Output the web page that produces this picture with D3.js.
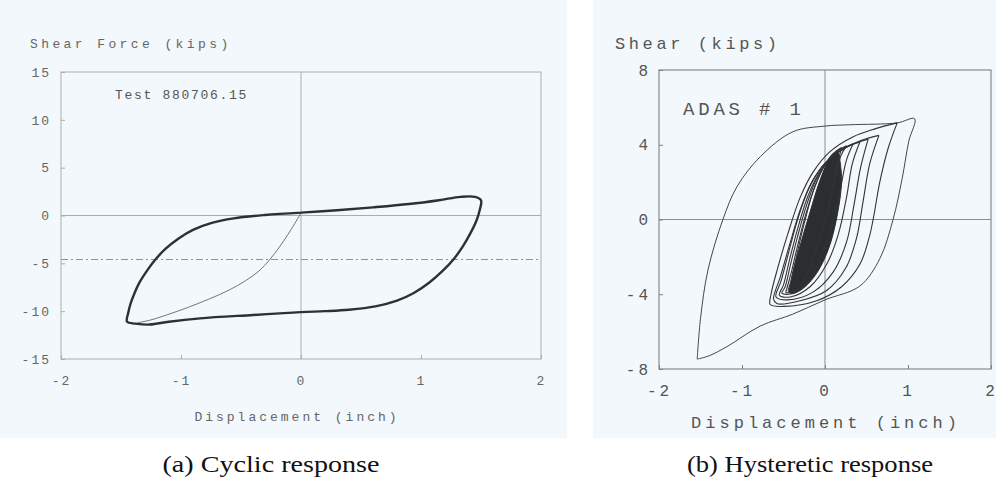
<!DOCTYPE html>
<html>
<head>
<meta charset="utf-8">
<script src="https://cdn.jsdelivr.net/npm/d3@7"></script>
<style>
  body { margin: 0; background: #fff; }
  .mono { font-family: "Liberation Mono", "DejaVu Sans Mono", monospace; }
  .cap { font-family: "Liberation Serif", "DejaVu Serif", serif; }
</style>
</head>
<body>
<svg id="vis" width="996" height="484"></svg>
<script>
// ---- data ----
const xTicks = [-2, -1, 0, 1, 2];
const leftYTicks = [-15, -10, -5, 0, 5, 10, 15];
const rightYTicks = [-8, -4, 0, 4, 8];
const yieldLevel = -4.6;

// (a) cyclic response, thick stabilised loop
const cyclicLoop = [[0,0.3],[0.3,0.55],[0.6,0.85],[0.9,1.2],[1.15,1.6],[1.33,1.95],[1.45,1.95],[1.5,1.6],
  [1.49,0.6],[1.46,-0.6],[1.41,-1.9],[1.35,-3.2],[1.27,-4.6],[1.18,-5.8],[1.07,-7.0],[0.94,-8.1],[0.8,-8.9],
  [0.62,-9.5],[0.4,-9.85],[0.2,-10.0],[0,-10.1],[-0.4,-10.4],[-0.84,-10.75],[-1.1,-11.1],[-1.26,-11.4],
  [-1.38,-11.3],[-1.45,-11.1],[-1.44,-10.2],[-1.42,-9.2],[-1.39,-8.2],[-1.35,-7.1],[-1.29,-5.9],[-1.22,-4.7],
  [-1.13,-3.5],[-1.02,-2.4],[-0.9,-1.5],[-0.75,-0.8],[-0.56,-0.3],[-0.3,0.05],[0,0.3]];
// first loading branch (thin)
const virginCurve = [[0,0.3],[-0.05,-0.8],[-0.11,-2.0],[-0.18,-3.3],[-0.26,-4.6],[-0.35,-5.8],[-0.46,-6.8],
  [-0.6,-7.8],[-0.76,-8.7],[-0.94,-9.6],[-1.12,-10.4],[-1.26,-10.95],[-1.36,-11.2]];

// (b) hysteretic response, loops from outer to inner
const loopOuter = [[-1.54,-7.47],[-1.4,-7.3],[-1.18,-6.8],[-0.78,-5.7],[-0.39,-5.07],[0,-4.3],[0.42,-3.56],
  [0.66,-2.1],[0.82,0],[0.93,2.2],[1.01,4.2],[1.08,5.39],[0.87,5.17],[0.3,5.07],[0,5.0],[-0.39,4.69],
  [-0.78,3.36],[-1.06,1.76],[-1.23,0],[-1.41,-2.7],[-1.5,-5.3],[-1.54,-7.47]];
const loop2 = [[0.87,5.17],[0.6,4.85],[0.34,4.43],[0.06,3.63],[-0.14,2.56],[-0.3,1.17],[-0.45,-0.8],[-0.57,-2.6],
  [-0.65,-4.0],[-0.66,-4.55],[-0.5,-4.65],[-0.1,-4.35],[0.2,-3.6],[0.42,-2.4],[0.53,-1.0],[0.58,0],[0.66,2.0],
  [0.76,3.8],[0.87,5.17]];
const loop3 = [[0.65,4.5],[0.45,4.25],[0.25,3.85],[0.02,3.1],[-0.16,2.0],[-0.3,0.5],[-0.43,-1.4],[-0.54,-3.1],
  [-0.62,-4.25],[-0.58,-4.5],[-0.3,-4.35],[0.02,-3.8],[0.25,-2.6],[0.38,-1.0],[0.46,1.0],[0.54,3.0],[0.65,4.5]];
const loop4 = [[0.52,4.3],[0.35,4.05],[0.16,3.6],[-0.04,2.8],[-0.2,1.6],[-0.33,0],[-0.44,-1.8],[-0.53,-3.3],
  [-0.59,-4.15],[-0.45,-4.3],[-0.15,-3.9],[0.1,-2.8],[0.26,-1.2],[0.35,0.8],[0.43,2.8],[0.52,4.3]];
const loop5 = [[0.42,4.15],[0.27,3.9],[0.1,3.4],[-0.07,2.5],[-0.21,1.2],[-0.33,-0.5],[-0.43,-2.2],[-0.5,-3.5],
  [-0.55,-4.05],[-0.42,-4.15],[-0.18,-3.6],[0.02,-2.4],[0.16,-0.8],[0.26,1.2],[0.33,3.0],[0.42,4.15]];
const loop6 = [[0.34,4.05],[0.2,3.75],[0.05,3.2],[-0.1,2.2],[-0.22,0.8],[-0.33,-0.9],[-0.42,-2.5],[-0.48,-3.6],
  [-0.52,-3.95],[-0.38,-3.95],[-0.2,-3.3],[-0.05,-2.0],[0.08,-0.4],[0.18,1.5],[0.26,3.2],[0.34,4.05]];
const loop7 = [[0.26,3.95],[0.14,3.65],[0.01,3.0],[-0.12,1.8],[-0.23,0.3],[-0.33,-1.4],[-0.41,-2.9],[-0.46,-3.7],
  [-0.47,-3.9],[-0.35,-3.8],[-0.22,-3.0],[-0.1,-1.6],[0.02,0.2],[0.11,2.0],[0.19,3.4],[0.26,3.95]];
const loop8 = [[0.2,3.85],[0.09,3.5],[-0.03,2.7],[-0.15,1.4],[-0.25,-0.2],[-0.34,-1.9],[-0.41,-3.3],[-0.44,-3.85],
  [-0.33,-3.7],[-0.2,-2.8],[-0.08,-1.2],[0.04,0.6],[0.12,2.4],[0.2,3.85]];
// dense black core of small cycles
const denseCore = [[0.16,3.7],[0.2,2.2],[0.15,0.3],[0.04,-1.6],[-0.12,-3.0],[-0.3,-3.8],[-0.42,-3.95],
  [-0.4,-3.1],[-0.3,-1.4],[-0.18,0.4],[-0.06,2.1],[0.06,3.3],[0.16,3.7]];
const rightLoops = [loopOuter, loop2, loop3, loop4, loop5, loop6, loop7, loop8];

const svg = d3.select("#vis");
const bg = "#f2f8fb";
svg.append("rect").attr("x",0).attr("y",0).attr("width",567).attr("height",438).attr("fill",bg);
svg.append("rect").attr("x",593).attr("y",0).attr("width",403).attr("height",438).attr("fill",bg);

// ---------- panel (a) ----------
const xa = d3.scaleLinear().domain([-2,2]).range([61,541]);
const ya = d3.scaleLinear().domain([-15,15]).range([359,72]);
const ga = svg.append("g").attr("class","mono");
const gridA = "#a9adb0";

ga.append("rect").attr("x",xa(-2)).attr("y",ya(15)).attr("width",xa(2)-xa(-2)).attr("height",ya(-15)-ya(15))
  .attr("fill","none").attr("stroke",gridA).attr("stroke-width",1);
ga.append("line").attr("x1",xa(-2)).attr("x2",xa(2)).attr("y1",ya(0)).attr("y2",ya(0)).attr("stroke",gridA);
ga.append("line").attr("x1",xa(0)).attr("x2",xa(0)).attr("y1",ya(15)).attr("y2",ya(-15)).attr("stroke",gridA);
ga.append("line").attr("x1",xa(-2)).attr("x2",xa(2)).attr("y1",ya(yieldLevel)).attr("y2",ya(yieldLevel))
  .attr("stroke","#8d9296").attr("stroke-dasharray","7,3,2,3");

const axA = ga.append("g").attr("transform",`translate(0,${ya(-15)})`)
  .call(d3.axisBottom(xa).tickValues(xTicks).tickSizeInner(-4).tickSizeOuter(0).tickPadding(17).tickFormat(d3.format("d")));
const ayA = ga.append("g").attr("transform",`translate(${xa(-2)},0)`)
  .call(d3.axisLeft(ya).tickValues(leftYTicks).tickSizeInner(-4).tickSizeOuter(0).tickPadding(10).tickFormat(d3.format("d")));
[axA, ayA].forEach(a => {
  a.select(".domain").remove();
  a.selectAll(".tick line").attr("stroke",gridA);
  a.selectAll("text").attr("font-size",13).attr("fill","#666").attr("letter-spacing",2)
    .attr("font-family","Liberation Mono, monospace").text(d => String(d).replace("−","-"));
});

ga.append("text").attr("x",30).attr("y",48).attr("font-size",13).attr("letter-spacing",3.4).attr("fill","#666")
  .text("Shear Force (kips)");
ga.append("text").attr("x",115).attr("y",99).attr("font-size",13).attr("letter-spacing",1.7).attr("fill","#555")
  .text("Test 880706.15");
ga.append("text").attr("x",297).attr("y",421).attr("text-anchor","middle").attr("font-size",13)
  .attr("letter-spacing",3).attr("fill","#666").text("Displacement (inch)");

const lineA = d3.line().x(d => xa(d[0])).y(d => ya(d[1])).curve(d3.curveCatmullRom.alpha(0.5));
ga.append("path").attr("d",lineA(virginCurve)).attr("fill","none").attr("stroke","#666").attr("stroke-width",0.9);
ga.append("path").attr("d",lineA(cyclicLoop)).attr("fill","none").attr("stroke","#2e3133").attr("stroke-width",2.4)
  .attr("stroke-linejoin","round");

// ---------- panel (b) ----------
const xb = d3.scaleLinear().domain([-2,2]).range([659,991]);
const yb = d3.scaleLinear().domain([-8,8]).range([369,70]);
const gb = svg.append("g").attr("class","mono");
const gridB = "#7d8184";

gb.append("line").attr("x1",xb(-2)).attr("x2",xb(2)).attr("y1",yb(0)).attr("y2",yb(0)).attr("stroke","#8a8e91");
gb.append("line").attr("x1",xb(0)).attr("x2",xb(0)).attr("y1",yb(8)).attr("y2",yb(-8)).attr("stroke","#8a8e91");
gb.append("rect").attr("x",xb(-2)).attr("y",yb(8)).attr("width",xb(2)-xb(-2)).attr("height",yb(-8)-yb(8))
  .attr("fill","none").attr("stroke",gridB).attr("stroke-width",1.1);

const axB = gb.append("g").attr("transform",`translate(0,${yb(-8)})`)
  .call(d3.axisBottom(xb).tickValues(xTicks).tickSizeInner(-4).tickSizeOuter(0).tickPadding(16).tickFormat(d3.format("d")));
const ayB = gb.append("g").attr("transform",`translate(${xb(-2)},0)`)
  .call(d3.axisLeft(yb).tickValues(rightYTicks).tickSizeInner(-4).tickSizeOuter(0).tickPadding(8).tickFormat(d3.format("d")));
[axB, ayB].forEach(a => {
  a.select(".domain").remove();
  a.selectAll(".tick line").attr("stroke",gridB);
  a.selectAll("text").attr("font-size",16).attr("fill","#555").attr("letter-spacing",3)
    .attr("font-family","Liberation Mono, monospace").text(d => String(d).replace("−","-"));
});

gb.append("text").attr("x",615).attr("y",49).attr("font-size",17).attr("letter-spacing",3.6).attr("fill","#555")
  .text("Shear (kips)");
gb.append("text").attr("x",683).attr("y",115).attr("font-size",19).attr("letter-spacing",3.8).attr("fill","#555")
  .text("ADAS # 1");
gb.append("text").attr("x",826).attr("y",428).attr("text-anchor","middle").attr("font-size",17)
  .attr("letter-spacing",4).attr("fill","#555").text("Displacement (inch)");

const lineB = d3.line().x(d => xb(d[0])).y(d => yb(d[1])).curve(d3.curveCatmullRom.alpha(0.5));
gb.append("path").attr("d",lineB(denseCore)).attr("fill","#2b2e30").attr("stroke","#2b2e30").attr("stroke-width",1);
gb.selectAll("path.loop").data(rightLoops).join("path").attr("class","loop")
  .attr("d",lineB).attr("fill","none").attr("stroke","#333").attr("stroke-width",(d,i) => i === 0 ? 0.9 : 1.1);

// ---------- captions ----------
svg.append("text").attr("class","cap").attr("x",271).attr("y",472).attr("text-anchor","middle")
  .attr("font-size",24).attr("fill","#111").attr("textLength",217).attr("lengthAdjust","spacingAndGlyphs")
  .text("(a) Cyclic response");
svg.append("text").attr("class","cap").attr("x",810).attr("y",472).attr("text-anchor","middle")
  .attr("font-size",24).attr("fill","#111").attr("textLength",246).attr("lengthAdjust","spacingAndGlyphs")
  .text("(b) Hysteretic response");
</script>
</body>
</html>
